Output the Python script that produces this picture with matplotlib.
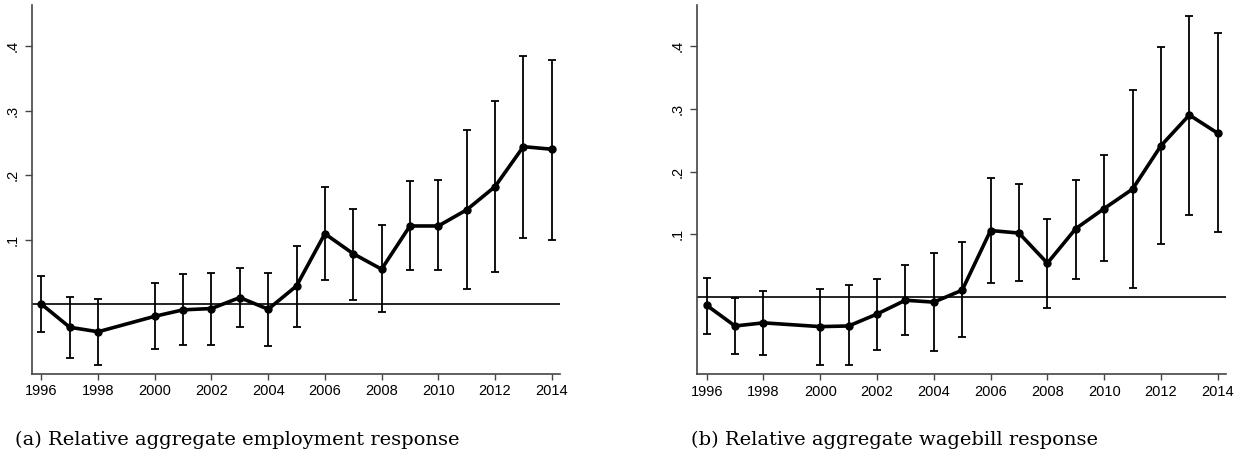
import numpy as np
import matplotlib.pyplot as plt

# event-study coefficients with 95% confidence bounds (no 1999 estimate)
years = [1996, 1997, 1998, 2000, 2001, 2002, 2003, 2004, 2005,
         2006, 2007, 2008, 2009, 2010, 2011, 2012, 2013, 2014]

emp_coef = [0.000, -0.036, -0.043, -0.019, -0.009, -0.007, 0.010, -0.008, 0.028,
            0.109, 0.078, 0.054, 0.121, 0.121, 0.146, 0.182, 0.244, 0.240]
emp_lo = [-0.044, -0.084, -0.094, -0.069, -0.064, -0.063, -0.036, -0.065, -0.035,
          0.038, 0.007, -0.013, 0.052, 0.053, 0.024, 0.050, 0.102, 0.100]
emp_hi = [0.043, 0.011, 0.008, 0.033, 0.047, 0.048, 0.056, 0.048, 0.090,
          0.181, 0.147, 0.122, 0.191, 0.192, 0.270, 0.315, 0.385, 0.379]

wage_coef = [-0.013, -0.046, -0.041, -0.047, -0.046, -0.027, -0.005, -0.008, 0.011,
             0.106, 0.102, 0.054, 0.109, 0.141, 0.172, 0.241, 0.290, 0.261]
wage_lo = [-0.059, -0.091, -0.092, -0.108, -0.108, -0.084, -0.061, -0.086, -0.064,
           0.023, 0.025, -0.017, 0.029, 0.057, 0.014, 0.084, 0.130, 0.104]
wage_hi = [0.031, -0.002, 0.010, 0.013, 0.019, 0.029, 0.051, 0.071, 0.088,
           0.189, 0.180, 0.124, 0.186, 0.226, 0.330, 0.398, 0.447, 0.420]

xticks = [1996, 1998, 2000, 2002, 2004, 2006, 2008, 2010, 2012, 2014]
yticks = [0.1, 0.2, 0.3, 0.4]
ytick_labels = ['.1', '.2', '.3', '.4']

captions = ['(a) Relative aggregate employment response',
            '(b) Relative aggregate wagebill response']

fig = plt.figure(figsize=(12.44, 4.63), dpi=100)
ax1 = fig.add_axes([0.0257, 0.1922, 0.4244, 0.797])
ax2 = fig.add_axes([0.5605, 0.1915, 0.4250, 0.7975])


def draw_panel(ax, coef, lo, hi, ylim):
    coef = np.array(coef)
    yerr = [coef - np.array(lo), np.array(hi) - coef]
    ax.axhline(0, color='black', lw=1.2, zorder=1)
    ax.errorbar(years, coef, yerr=yerr, fmt='none', ecolor='black',
                elinewidth=1.3, capsize=3.1, capthick=1.3, zorder=2)
    ax.plot(years, coef, color='black', lw=2.6, marker='o', ms=5, zorder=3)
    ax.set_xlim(1995.67, 2014.29)
    ax.set_ylim(*ylim)
    ax.set_xticks(xticks)
    ax.set_xticklabels([str(y) for y in xticks], fontsize=10.5,
                       family='Liberation Sans')
    ax.set_yticks(yticks)
    ax.set_yticklabels(ytick_labels, fontsize=10.5, rotation=90, va='center',
                       family='Liberation Sans')
    for side in ['top', 'right']:
        ax.spines[side].set_visible(False)
    for side in ['left', 'bottom']:
        ax.spines[side].set_color('#444444')
        ax.spines[side].set_linewidth(1.2)
    ax.tick_params(axis='x', length=4.5, width=1.0, color='#444444', pad=3)
    ax.tick_params(axis='y', length=5, width=1.0, color='#444444', pad=4)


draw_panel(ax1, emp_coef, emp_lo, emp_hi, (-0.1085, 0.4636))
draw_panel(ax2, wage_coef, wage_lo, wage_hi, (-0.123, 0.465))

fig.text(0.191, 0.05, captions[0], ha='center', va='center', fontsize=14,
         family='DejaVu Serif')
fig.text(0.719, 0.05, captions[1], ha='center', va='center', fontsize=14,
         family='DejaVu Serif')

fig.savefig('out.png', dpi=100)
